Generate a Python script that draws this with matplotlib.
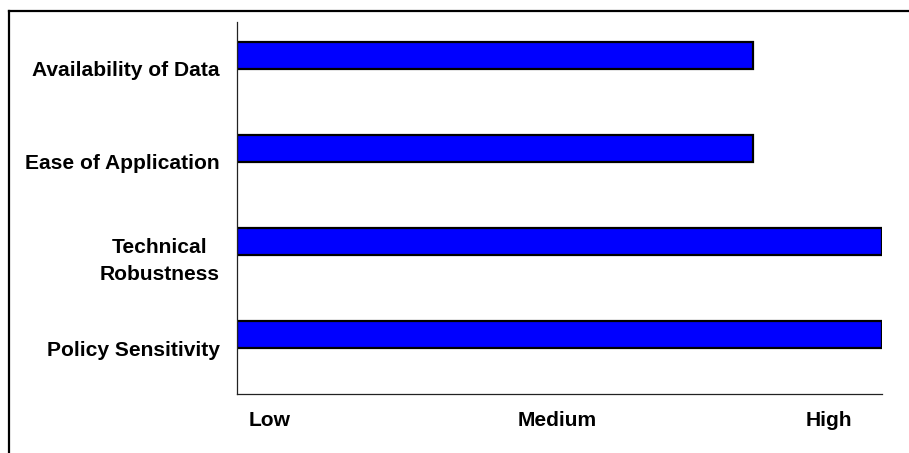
import matplotlib
matplotlib.use("Agg")
import matplotlib.pyplot as plt
from matplotlib.lines import Line2D

# criteria listed top to bottom, scored on a 0-100 low..high scale
criteria = ["Availability of Data", "Ease of Application",
            "Technical\nRobustness", "Policy Sensitivity"]
scores = [80, 80, 100, 100]
level_labels = ["Low", "Medium", "High"]
level_pos = [5, 49.6, 91.8]

plt.rcParams["font.family"] = ["Liberation Sans", "DejaVu Sans"]
plt.rcParams["font.weight"] = "bold"

fig = plt.figure(figsize=(9.09, 4.53), dpi=100)
ax = fig.add_axes([237 / 909, 1 - 394 / 453, 645 / 909, 372 / 453])

ypos = list(range(len(criteria)))
ax.barh(ypos, scores, height=0.29, color="#0000ff", edgecolor="black",
        linewidth=1.6)

ax.set_xlim(0, 100)
ax.set_ylim(3.634, -0.355)

# labels sit a bit below the bar centres
ax.set_yticks([y + 0.145 for y in ypos])
ax.set_yticklabels(criteria, fontsize=15.1, fontweight="bold",
                   multialignment="center", linespacing=1.5)
ax.set_xticks(level_pos)
ax.set_xticklabels(level_labels, fontsize=15.1, fontweight="bold")
ax.tick_params(axis="y", length=0, pad=12.5)
ax.tick_params(axis="x", length=0, pad=12)

for side in ("top", "right"):
    ax.spines[side].set_visible(False)
for side in ("left", "bottom"):
    ax.spines[side].set_linewidth(0.9)
    ax.spines[side].set_color("#222222")

# frame around the figure (cut off at the bottom)
fig.add_artist(Line2D([8.5 / 909, 8.5 / 909], [0, 1 - 11 / 453],
                      transform=fig.transFigure, color="black", lw=1.6))
fig.add_artist(Line2D([8.5 / 909, 1], [1 - 11 / 453, 1 - 11 / 453],
                      transform=fig.transFigure, color="black", lw=1.6))

fig.savefig("out.png", dpi=100)
